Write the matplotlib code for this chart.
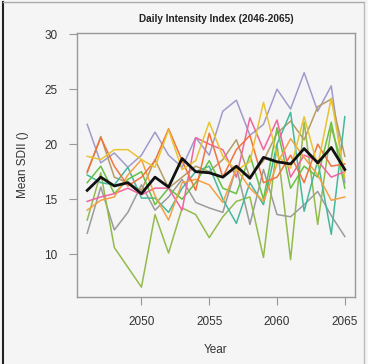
import numpy as np
import matplotlib
matplotlib.use("Agg")
import matplotlib.pyplot as plt
from matplotlib.lines import Line2D

plt.rcParams['font.family'] = ['Liberation Sans', 'DejaVu Sans']

# years and model series
years = list(range(2046, 2066))

purple = [21.8, 18.3, 19.2, 17.9, 19.0, 21.1, 19.0, 17.9, 20.6, 19.0, 23.0, 24.0, 20.8, 21.8, 25.0, 23.2, 26.5, 23.0, 25.3, 16.5]
yellow = [18.9, 18.6, 19.5, 19.5, 18.6, 17.9, 21.3, 17.7, 18.5, 22.0, 18.9, 17.6, 18.4, 23.8, 19.0, 17.8, 22.5, 18.0, 24.2, 17.0]
orange = [14.0, 14.9, 15.2, 17.2, 18.6, 15.3, 13.1, 16.5, 16.8, 16.3, 14.7, 17.8, 16.0, 14.8, 18.2, 20.5, 18.8, 17.2, 14.9, 15.2]
redorange = [17.5, 20.6, 18.0, 16.2, 17.0, 18.5, 21.4, 18.5, 15.8, 21.0, 17.0, 19.5, 20.8, 16.5, 17.0, 19.0, 16.5, 20.0, 18.0, 18.2]
pink = [14.8, 15.2, 15.5, 16.0, 15.4, 16.0, 16.0, 14.0, 20.6, 20.0, 19.5, 17.0, 22.4, 19.5, 22.2, 17.0, 19.0, 18.5, 17.0, 17.5]
teal = [17.2, 16.5, 16.3, 17.9, 15.1, 15.1, 13.8, 16.0, 17.5, 18.0, 15.0, 12.8, 16.5, 14.5, 20.0, 22.9, 13.9, 18.5, 11.8, 22.5]
olive = [13.1, 17.4, 10.6, 8.8, 7.0, 13.6, 10.1, 14.2, 13.6, 11.5, 13.4, 14.8, 15.2, 9.7, 20.0, 9.5, 22.0, 12.7, 21.5, 17.5]
gray = [11.9, 16.1, 12.2, 13.8, 16.3, 14.0, 15.2, 16.8, 14.7, 14.2, 13.8, 17.9, 12.7, 17.7, 13.6, 13.4, 14.5, 15.7, 13.5, 11.6]
tan = [17.4, 20.7, 17.0, 16.5, 15.8, 18.6, 16.0, 17.0, 18.0, 17.5, 18.6, 20.4, 17.0, 18.5, 21.0, 22.1, 20.4, 23.4, 24.1, 18.9]
green = [16.5, 18.0, 15.5, 16.8, 17.5, 14.5, 16.0, 15.0, 16.5, 18.5, 16.0, 15.5, 19.0, 15.0, 21.5, 16.0, 18.0, 17.0, 22.0, 16.0]
mean = [15.8, 17.0, 16.2, 16.5, 15.5, 17.0, 16.1, 18.7, 17.5, 17.4, 17.0, 18.0, 16.9, 18.8, 18.4, 18.2, 19.6, 18.3, 19.7, 17.7]

series = [
    (purple, "#a09bcc"),
    (gray, "#9b9b9b"),
    (olive, "#93bb4c"),
    (tan, "#b59c66"),
    (teal, "#45b89c"),
    (green, "#66c144"),
    (pink, "#f0649f"),
    (orange, "#f4a040"),
    (redorange, "#f2733d"),
    (yellow, "#e8c432"),
]

bg = "#f5f5f5"
fig = plt.figure(figsize=(3.68, 3.64), dpi=100, facecolor=bg)
ax = fig.add_axes([0.209, 0.184, 0.756, 0.725])
ax.set_facecolor(bg)

for vals, col in series:
    ax.plot(years, vals, color=col, lw=1.1)
ax.plot(years, mean, color="#111111", lw=2.0)

ax.set_xlim(2045.24, 2065.76)
ax.set_ylim(6.1, 30.1)
ax.set_xticks([2050, 2055, 2060, 2065])
ax.set_yticks([10, 15, 20, 25, 30])

for s in ax.spines.values():
    s.set_color("#999999")
    s.set_linewidth(1.0)
ax.tick_params(direction="out", length=6, color="#999999", labelsize=8.5,
               labelcolor="#333333", pad=8)

ax.set_title("Daily Intensity Index (2046-2065)", fontsize=7.2,
             fontweight="bold", color="#222222", pad=8)
ax.set_xlabel("Year", fontsize=8.5, color="#333333", labelpad=11)
ax.set_ylabel("Mean SDII ()", fontsize=8.5, color="#333333", labelpad=11)

# outer frame like the screenshot
fig.add_artist(Line2D([0.009, 0.009], [0, 0.995], transform=fig.transFigure,
                      color="#222222", lw=1.5))
fig.add_artist(Line2D([0.009, 0.988], [0.995, 0.995], transform=fig.transFigure,
                      color="#aaaaaa", lw=1.0))
fig.add_artist(Line2D([0.988, 0.988], [0, 0.995], transform=fig.transFigure,
                      color="#bbbbbb", lw=1.0))

fig.savefig("out.png", dpi=100, facecolor=bg)
